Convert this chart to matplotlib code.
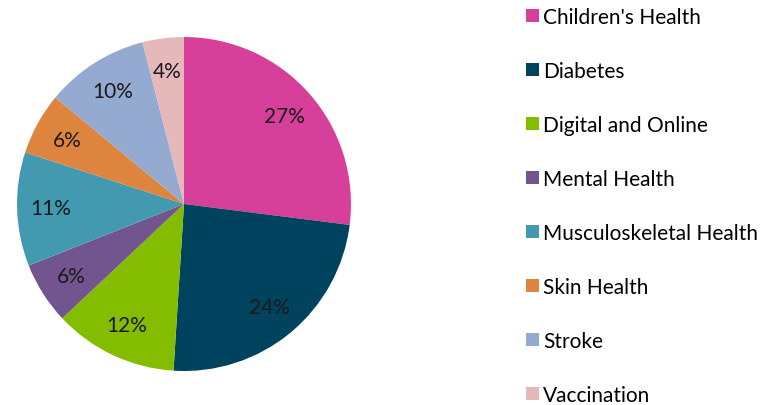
import matplotlib.pyplot as plt
from matplotlib.patches import Patch

categories = ["Children's Health", "Diabetes", "Digital and Online", "Mental Health",
              "Musculoskeletal Health", "Skin Health", "Stroke", "Vaccination"]
shares = [27, 24, 12, 6, 11, 6, 10, 4]
colors = ["#D6409A", "#00435E", "#84BD00", "#72558F",
          "#4299B0", "#DD853F", "#95AAD1", "#E7B8BA"]

plt.rcParams['font.family'] = ['Lato', 'DejaVu Sans']

fig = plt.figure(figsize=(7.71, 4.06), dpi=100)
ax = fig.add_axes([17 / 771, 34 / 406, 334 / 771, 334 / 406])

wedges, texts, autotexts = ax.pie(shares, colors=colors, startangle=90, counterclock=False,
                                  autopct='%1.0f%%', pctdistance=0.8,
                                  textprops={'fontsize': 15, 'color': '#1a1a1a'})
ax.set_xlim(-1, 1)
ax.set_ylim(-1, 1)
ax.set_aspect('equal')

handles = [Patch(facecolor=c, label=l) for c, l in zip(colors, categories)]
fig.legend(handles=handles, loc='upper left', bbox_to_anchor=(522 / 771, 1 - 4 / 406),
           frameon=False, fontsize=15, handlelength=0.6, handleheight=0.6,
           handletextpad=0.22, labelspacing=1.63, borderaxespad=0, borderpad=0.2)

fig.savefig('out.png', dpi=100)
